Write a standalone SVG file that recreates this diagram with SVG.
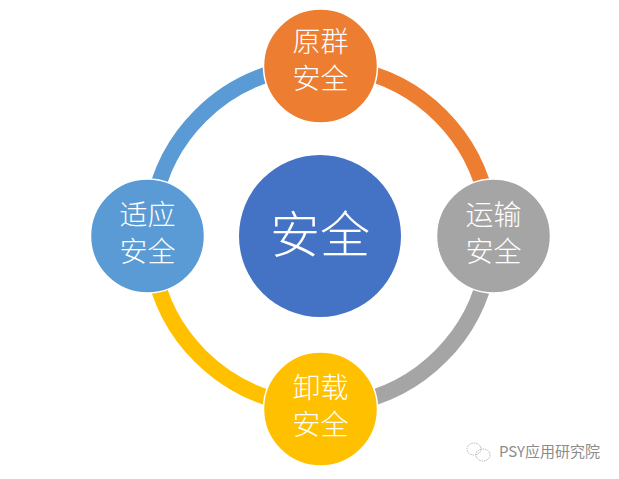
<svg xmlns="http://www.w3.org/2000/svg" width="619" height="479" viewBox="0 0 619 479">
<style>
.n{stroke:#fff;stroke-width:1.5}
.t{font-family:"Noto Sans CJK SC","Noto Sans CJK JP",sans-serif;fill:#fff;text-anchor:middle;font-size:28px;font-weight:300}
.r{fill:none;stroke-width:16}
</style>
<rect width="619" height="479" fill="#fff"/>
<g id="connectors">
<path class="r" stroke="#ed7d31" d="M350 68.600A170 170 0 0 1 487.900 206.500"/>
<path class="r" stroke="#a5a5a5" d="M487.900 265.500A170 170 0 0 1 350 403.400"/>
<path class="r" stroke="#ffc000" d="M291 403.400A170 170 0 0 1 153.100 265.500"/>
<path class="r" stroke="#5b9bd5" d="M153.100 206.500A170 170 0 0 1 291 68.600"/>
</g>
<g id="center"><circle cx="320" cy="236" r="81" fill="#4472c4"/><text class="t" x="320" y="253" style="font-size:50px">安全</text></g>
<g id="top"><circle class="n" cx="320.500" cy="66" r="57" fill="#ed7d31"/><text class="t" x="320.500" y="52">原群<tspan x="320.500" dy="37">安全</tspan></text></g>
<g id="right"><circle class="n" cx="493.500" cy="236" r="57" fill="#a5a5a5"/><text class="t" x="493.500" y="225">运输<tspan x="493.500" dy="37">安全</tspan></text></g>
<g id="bottom"><circle class="n" cx="320.500" cy="409" r="57" fill="#ffc000"/><text class="t" x="320.500" y="398">卸载<tspan x="320.500" dy="37">安全</tspan></text></g>
<g id="left"><circle class="n" cx="147.500" cy="236" r="57" fill="#5b9bd5"/><text class="t" x="147.500" y="225">适应<tspan x="147.500" dy="37">安全</tspan></text></g>
<g id="watermark" fill="none" stroke="#b5b5b5" stroke-width="1" stroke-dasharray="1.500 1">
<ellipse cx="474" cy="449" rx="7" ry="6"/><ellipse cx="483" cy="455" rx="7" ry="6"/>
</g>
<text x="499" y="457" style="font-family:'Noto Sans CJK SC',sans-serif;font-size:15px;fill:#8c8c8c">PSY应用研究院</text>
</svg>
